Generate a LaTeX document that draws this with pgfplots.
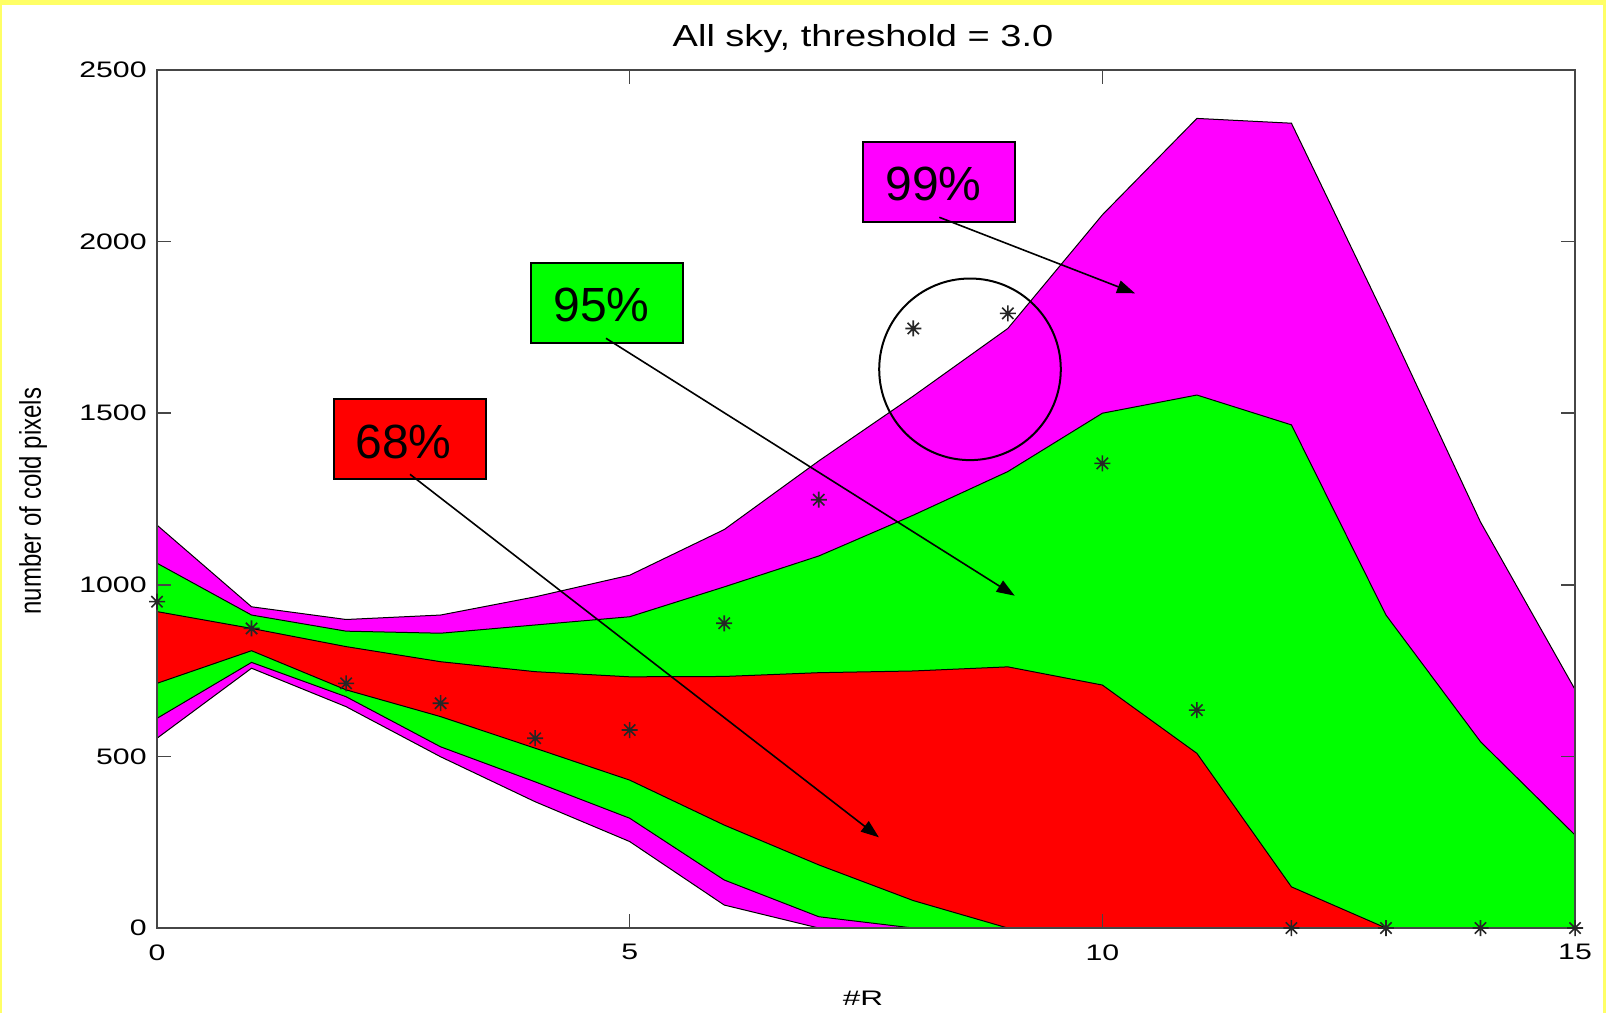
\documentclass[border=0pt]{standalone}
\usepackage{fontspec}
\setmainfont{Liberation Sans}
\usepackage{graphicx}
\usepackage{pgfplots}
\pgfplotsset{compat=1.18}
\usetikzlibrary{arrows.meta}
\definecolor{mag}{RGB}{255,0,255}
\definecolor{grn}{RGB}{0,255,0}
\definecolor{rd}{RGB}{255,0,0}
\definecolor{yel}{RGB}{255,255,102}
\definecolor{axgray}{RGB}{70,70,70}
\newcommand{\tl}[1]{\scalebox{1.35}[1]{#1}}
\pgfdeclareplotmark{mstar}{%
  \pgfpathmoveto{\pgfqpoint{-\pgfplotmarksize}{0pt}}%
  \pgfpathlineto{\pgfqpoint{\pgfplotmarksize}{0pt}}%
  \pgfpathmoveto{\pgfqpoint{0pt}{-\pgfplotmarksize}}%
  \pgfpathlineto{\pgfqpoint{0pt}{\pgfplotmarksize}}%
  \pgfpathmoveto{\pgfqpoint{-0.707\pgfplotmarksize}{-0.707\pgfplotmarksize}}%
  \pgfpathlineto{\pgfqpoint{0.707\pgfplotmarksize}{0.707\pgfplotmarksize}}%
  \pgfpathmoveto{\pgfqpoint{-0.707\pgfplotmarksize}{0.707\pgfplotmarksize}}%
  \pgfpathlineto{\pgfqpoint{0.707\pgfplotmarksize}{-0.707\pgfplotmarksize}}%
  \pgfusepathqstroke}
\begin{document}
\begin{tikzpicture}
\begin{scope}[x=0.5bp,y=-0.5bp]
\fill[yel] (0,0) rectangle (1606,1013);
\fill[white] (2,5) rectangle (1603,1013);
\end{scope}
\begin{axis}[
  at={(78.5bp,-464bp)}, anchor=south west,
  scale only axis, width=709bp, height=429bp,
  xmin=0, xmax=15, ymin=0, ymax=2500,
  xtick={0,5,10,15}, ytick={0,500,1000,1500,2000,2500},
  xticklabels={\tl{0},\tl{5},\tl{10},\tl{15}},
  yticklabels={\tl{0},\tl{500},\tl{1000},\tl{1500},\tl{2000},\tl{2500}},
  tick align=inside, major tick length=7bp,
  axis line style={axgray, line width=1bp},
  every tick/.style={axgray, line width=0.8bp},
  xticklabel style={anchor=north, inner sep=0pt, yshift=-8bp},
  yticklabel style={anchor=east, inner sep=0pt, xshift=-5bp},
  ticklabel style={font=\fontsize{11.2bp}{13bp}\selectfont},
  axis on top,
]
% 99% band
\addplot[fill=mag, draw=black, line width=0.5bp] coordinates {
(0,1174) (1,936) (2,899) (3,912) (4,965) (5,1028) (6,1161) (7,1361) (8,1550) (9,1747) (10,2078) (11,2359) (12,2345) (13,1773) (14,1183) (15,695)
(15,0) (14,0) (13,0) (12,0) (11,0) (10,0) (9,0) (8,0) (7,0) (6,67) (5,252) (4,368) (3,499) (2,645) (1,757) (0,553) (0,1174)};
% 95% band
\addplot[fill=grn, draw=black, line width=0.5bp] coordinates {
(0,1063) (1,912) (2,865) (3,859) (4,883) (5,907) (6,994) (7,1084) (8,1203) (9,1330) (10,1500) (11,1553) (12,1466) (13,912) (14,543) (15,271)
(15,0) (14,0) (13,0) (12,0) (11,0) (10,0) (9,0) (8,0) (7,33) (6,140) (5,320) (4,426) (3,528) (2,674) (1,774) (0,611) (0,1063)};
% 68% band
\addplot[fill=rd, draw=black, line width=0.5bp] coordinates {
(0,922) (1,873) (2,820) (3,776) (4,747) (5,732) (6,733) (7,744) (8,749) (9,761) (10,708) (11,509) (12,120) (13,0) (14,0) (15,0)
(15,0) (14,0) (13,0) (12,0) (11,0) (10,0) (9,0) (8,80) (7,184) (6,300) (5,431) (4,524) (3,616) (2,694) (1,808) (0,713) (0,922)};
% data points
\addplot[only marks, mark=mstar, mark size=4bp, mark options={line width=0.8bp, draw=black!85}] coordinates {
(0,951) (1,873) (2,713) (3,655) (4,553) (5,577) (6,888) (7,1248) (8,1747) (9,1791) (10,1354) (11,635) (12,0) (13,0) (14,0) (15,0)};
\end{axis}
\begin{scope}[x=0.5bp,y=-0.5bp]
% title and labels
\node[anchor=base, inner sep=0pt, font=\fontsize{15.2bp}{18bp}\selectfont] at (863,46.7) {\scalebox{1.25}[1]{All sky, threshold = 3.0}};
\node[anchor=base, inner sep=0pt, font=\fontsize{10.5bp}{13bp}\selectfont] at (863,1005) {\scalebox{1.5}[1]{\#R}};
\node[rotate=90, inner sep=0pt, font=\fontsize{15bp}{18bp}\selectfont] at (33,501) {\scalebox{0.8}[1]{number of cold pixels}};
% boxes
\filldraw[fill=mag, draw=black, line width=1bp] (863.3,141.7) rectangle (1015,221.7);
\node[anchor=base west, inner sep=0pt, font=\fontsize{24bp}{28bp}\selectfont] at (885,200) {99\%};
\filldraw[fill=grn, draw=black, line width=1bp] (530.7,263.3) rectangle (682.7,342.7);
\node[anchor=base west, inner sep=0pt, font=\fontsize{24bp}{28bp}\selectfont] at (553,321.7) {95\%};
\filldraw[fill=rd, draw=black, line width=1bp] (334.3,399.3) rectangle (486,478.7);
\node[anchor=base west, inner sep=0pt, font=\fontsize{24bp}{28bp}\selectfont] at (355,458.3) {68\%};
% arrows
\draw[line width=0.8bp, -{Triangle[length=9bp,width=6.5bp]}] (939.3,217.3) -- (1135,293.3);
\draw[line width=0.8bp, -{Triangle[length=9bp,width=6.5bp]}] (606,338.3) -- (1014.7,595.7);
\draw[line width=0.8bp, -{Triangle[length=9bp,width=6.5bp]}] (410,474.3) -- (878.9,837.3);
% circle
\draw[line width=1bp] (970,369.3) circle[radius=90.8];
\end{scope}
\end{tikzpicture}
\end{document}
